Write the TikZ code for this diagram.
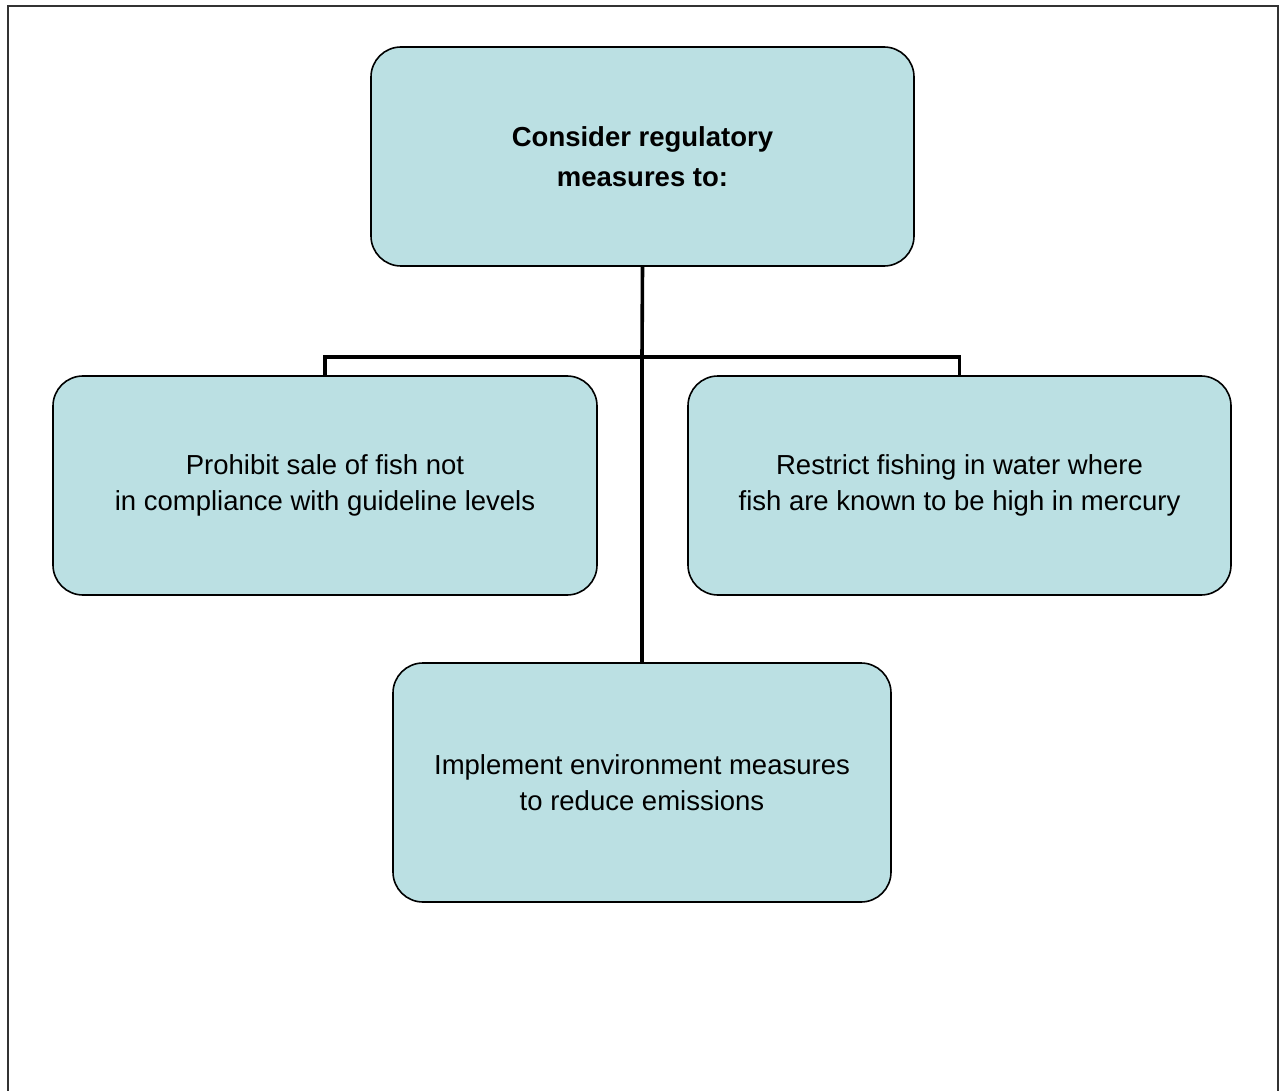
\documentclass[tikz,border=0pt]{standalone}
\usepackage{fontspec}
\setmainfont{Liberation Sans}
\begin{document}
\begin{tikzpicture}[x=1pt,y=-1pt,
  chartbox/.style={draw=black, line width=1.6pt, fill=boxfill, rounded corners=30pt,
    inner sep=0pt, align=center, font=\fontsize{27.5}{36}\selectfont},
  link/.style={draw=black, line width=3.6pt}]
\definecolor{boxfill}{HTML}{BBE0E3}
\useasboundingbox (0,0) rectangle (1280,1091);
% frame around the chart (open at the bottom edge)
\begin{scope}
\clip (0,0) rectangle (1280,1091);
\draw[line width=2pt, draw=black!80] (8,1100) -- (8,6) -- (1278,6) -- (1278,1100);
\end{scope}
% boxes
\node[chartbox, minimum width=543pt, minimum height=219pt,
  font=\bfseries\fontsize{27.5}{40}\selectfont]
  (top) at (642.5,156.5) {Consider regulatory\\measures to:};
\node[chartbox, minimum width=544pt, minimum height=219pt]
  (left) at (325,485.5) {Prohibit sale of fish not\\in compliance with guideline levels};
\node[chartbox, minimum width=543pt, minimum height=219pt]
  (right) at (959.5,485.5) {Restrict fishing in water where\\fish are known to be high in mercury};
\node[chartbox, minimum width=498pt, minimum height=239pt]
  (bottom) at (642,782.5) {Implement environment measures\\to reduce emissions};
% connectors
\coordinate (j) at (642,357);
\draw[link] (top.south) -- (j);
\draw[link] (left.north) |- (j) -| (right.north);
\draw[link] (j) -- (bottom.north);
\end{tikzpicture}
\end{document}
